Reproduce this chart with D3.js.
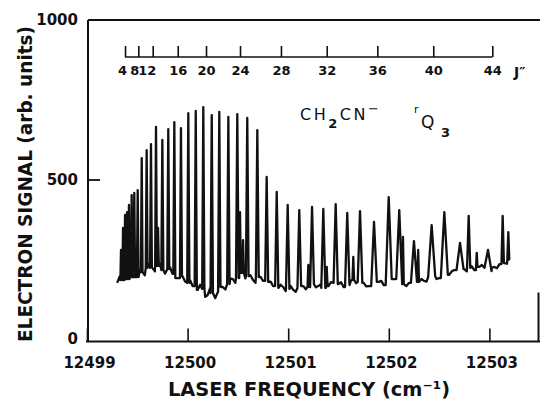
<!DOCTYPE html>
<html>
<head>
<meta charset="utf-8">
<script src="https://cdn.jsdelivr.net/npm/d3@7"></script>
<style>
  body { margin: 0; background: #fff; }
  svg { display: block; font-family: "DejaVu Sans", sans-serif; }
</style>
</head>
<body>
<svg id="chart" width="540" height="401"></svg>
<script>
// Axis ticks
const xTicks = [12499, 12500, 12501, 12502, 12503];
const yTicks = [0, 500, 1000];

// J'' assignment scale drawn across the top (frequency of each J line)
const jLabels = ['4', '8', '12', '16', '20', '24', '28', '32', '36', '40', '44'];
const jFreq = [12499.378, 12499.510, 12499.653, 12499.902, 12500.183, 12500.521,
               12500.928, 12501.383, 12501.886, 12502.442, 12503.029];

// Main lines of the Q branch (cm-1, arb. units, half width at the base in cm-1)
const peakFreq = [12499.338, 12499.358, 12499.378, 12499.398, 12499.417, 12499.444, 12499.470,
                  12499.504, 12499.544, 12499.593, 12499.636, 12499.686, 12499.749, 12499.808,
                  12499.868, 12499.934, 12500.007, 12500.081, 12500.156, 12500.240, 12500.315,
                  12500.405, 12500.494, 12500.593, 12500.693, 12500.786, 12500.886, 12500.995,
                  12501.110, 12501.237, 12501.349, 12501.472, 12501.587, 12501.714, 12501.853,
                  12501.999, 12502.104, 12502.250, 12502.426, 12502.552, 12502.708, 12502.794,
                  12502.986, 12503.132, 12503.188];
const peakSignal = [279, 348, 389, 398, 420, 451, 458, 467, 567, 592, 611, 665, 624, 658, 680,
                    661, 708, 715, 727, 702, 712, 696, 705, 693, 655, 508, 461, 420, 404, 414,
                    408, 423, 395, 401, 367, 445, 404, 307, 357, 398, 301, 386, 279, 386, 335];
const peakWidth = [.006, .006, .006, .006, .006, .008, .008, .008, .008, .009, .009, .009, .01, .01,
                   .01, .01, .011, .011, .011, .012, .012, .012, .013, .013, .014, .015, .016, .017,
                   .018, .019, .02, .021, .022, .023, .028, .03, .03, .03, .035, .035, .035, .016,
                   .035, .012, .01];

// Weaker lines and shoulders
const minorFreq = [12499.706, 12500.521, 12500.551, 12501.200, 12501.383, 12501.647,
                   12502.141, 12502.292, 12502.874];
const minorSignal = [348, 398, 310, 232, 226, 257, 320, 279, 270];
const minorWidth = 0.008;

// Baseline between the lines
const baseFreq = [12499.30, 12499.35, 12499.40, 12499.45, 12499.50, 12499.55, 12499.60, 12499.65,
                  12499.70, 12499.75, 12499.80, 12499.85, 12499.90, 12499.95, 12500.00, 12500.05,
                  12500.10, 12500.15, 12500.20, 12500.25, 12500.30, 12500.35, 12500.40, 12500.45,
                  12500.50, 12500.55, 12500.60, 12500.65, 12500.70, 12500.75, 12500.80, 12500.85,
                  12500.90, 12500.95, 12501.00, 12501.05, 12501.10, 12501.15, 12501.20, 12501.25,
                  12501.30, 12501.35, 12501.40, 12501.45, 12501.50, 12501.55, 12501.60, 12501.65,
                  12501.70, 12501.75, 12501.80, 12501.85, 12501.90, 12501.95, 12502.00, 12502.05,
                  12502.10, 12502.15, 12502.20, 12502.25, 12502.30, 12502.35, 12502.40, 12502.45,
                  12502.50, 12502.55, 12502.60, 12502.65, 12502.70, 12502.75, 12502.80, 12502.85,
                  12502.90, 12502.95, 12503.00, 12503.05, 12503.10, 12503.15, 12503.20];
const baseSignal = [176, 185, 188, 194, 194, 210, 223, 223, 229, 216, 219, 204, 191, 197, 176,
                    166, 154, 157, 138, 144, 147, 163, 172, 188, 191, 207, 197, 185, 194, 182,
                    179, 166, 160, 163, 157, 154, 160, 166, 163, 172, 166, 160, 166, 176, 172,
                    163, 169, 185, 179, 176, 166, 172, 179, 169, 166, 188, 182, 172, 176, 185,
                    179, 182, 194, 197, 191, 204, 201, 216, 210, 219, 223, 216, 226, 223, 213,
                    226, 235, 238, 248];

// Baseline noise read halfway between the samples above
const noiseFreq = [12499.325, 12499.375, 12499.425, 12499.475, 12499.525, 12499.575, 12499.625,
                   12499.675, 12499.725, 12499.775, 12499.825, 12499.875, 12499.925, 12499.975,
                   12500.025, 12500.075, 12500.125, 12500.175, 12500.225, 12500.275, 12500.325,
                   12500.375, 12500.425, 12500.475, 12500.525, 12500.575, 12500.625, 12500.675,
                   12500.725, 12500.775, 12500.825, 12500.875, 12500.925, 12500.975, 12501.025,
                   12501.075, 12501.125, 12501.175, 12501.225, 12501.275, 12501.325, 12501.375,
                   12501.425, 12501.475, 12501.525, 12501.575, 12501.625, 12501.675, 12501.725,
                   12501.775, 12501.825, 12501.875, 12501.925, 12501.975, 12502.025, 12502.075,
                   12502.125, 12502.175, 12502.225, 12502.275, 12502.325, 12502.375, 12502.425,
                   12502.475, 12502.525, 12502.575, 12502.625, 12502.675, 12502.725, 12502.775,
                   12502.825, 12502.875, 12502.925, 12502.975, 12503.025, 12503.075, 12503.125,
                   12503.175];
const noiseSignal = [196, 172, 205, 180, 215, 200, 238, 212, 236, 205, 225, 188, 206, 180, 184,
                     148, 170, 132, 160, 128, 168, 155, 190, 176, 205, 190, 200, 176, 195, 170,
                     180, 155, 170, 150, 166, 148, 170, 156, 176, 162, 172, 155, 178, 165, 178,
                     158, 184, 175, 186, 165, 176, 168, 182, 160, 180, 178, 185, 166, 186, 174,
                     188, 180, 202, 188, 203, 195, 212, 206, 220, 212, 228, 214, 232, 212, 224,
                     222, 244, 236];

const ink = '#111';
const width = 540;
const svg = d3.select('#chart');

const x = d3.scaleLinear().domain([12499, 12503]).range([87, 489.4]);
const y = d3.scaleLinear().domain([0, 1000]).range([339, 20]);

const frameLeft = x(12499) + 1;
const frameTop = y(1000);
const frameBottom = y(0) + 2.5;

// Frame (left axis, top line, bottom axis, bit of the right edge)
svg.append('path')
  .attr('d', `M${frameLeft},${frameTop} V${frameBottom} M${frameLeft - 2},${frameBottom} H${width} M${frameLeft},${frameTop} H${width} M${width - 1.5},${frameBottom - 49} V${frameBottom}`)
  .attr('fill', 'none')
  .attr('stroke', ink)
  .attr('stroke-width', 2);

// X axis
const gx = svg.append('g')
  .attr('transform', `translate(0,${frameBottom})`)
  .call(d3.axisBottom(x).tickValues(xTicks).tickFormat(d3.format('d'))
    .tickSizeInner(-13).tickSizeOuter(0).tickPadding(16));
gx.select('.domain').remove();
gx.selectAll('line').attr('stroke', ink).attr('stroke-width', 1.6);
gx.selectAll('text').attr('fill', ink).attr('font-size', 15).attr('font-weight', 'bold')
  .attr('font-family', '"DejaVu Sans", sans-serif').attr('dx', 2);

// Y axis
const gy = svg.append('g')
  .attr('transform', `translate(${frameLeft},0)`)
  .call(d3.axisLeft(y).tickValues(yTicks).tickFormat(d3.format('d'))
    .tickSizeInner(-12).tickSizeOuter(0).tickPadding(10));
gy.select('.domain').remove();
gy.selectAll('line').attr('stroke', ink).attr('stroke-width', 1.8)
  .attr('opacity', d => (d === 0 || d === 1000) ? 0 : 1);
gy.selectAll('text').attr('fill', ink).attr('font-size', 15).attr('font-weight', 'bold')
  .attr('font-family', '"DejaVu Sans", sans-serif');

// J'' scale
const jY = 57;
const jNudge = [-3, -4, -6];   // the crowded low-J labels sit left of their ticks
const gj = svg.append('g')
  .attr('transform', `translate(0,${jY})`)
  .call(d3.axisBottom(x).tickValues(jFreq).tickFormat((d, i) => jLabels[i])
    .tickSizeInner(-11).tickSizeOuter(0).tickPadding(9));
gj.select('.domain').remove();
gj.append('line')
  .attr('x1', x(jFreq[0])).attr('x2', x(jFreq[jFreq.length - 1]))
  .attr('stroke', ink).attr('stroke-width', 1.6);
gj.selectAll('line').attr('stroke', ink).attr('stroke-width', 1.6);
gj.selectAll('text').attr('fill', ink).attr('font-size', 13).attr('font-weight', 'bold')
  .attr('font-family', '"DejaVu Sans", sans-serif')
  .attr('dx', (d, i) => jNudge[i] || 0);
svg.append('text')
  .attr('x', 514).attr('y', 77)
  .attr('font-size', 14).attr('font-weight', 'bold').attr('fill', ink)
  .text('J\u2033');

// Build the trace from baseline and lines
const lineFreq = baseFreq.concat(noiseFreq);
const lineSignal = baseSignal.concat(noiseSignal);
const pts = [];
lineFreq.forEach((f, i) => {
  const covered = peakFreq.some((p, j) => Math.abs(p - f) < peakWidth[j]) ||
                  minorFreq.some(p => Math.abs(p - f) < minorWidth);
  if (!covered) pts.push([f, lineSignal[i]]);
});
const footAt = f => baseSignal[d3.minIndex(baseFreq, b => Math.abs(b - f))];
peakFreq.forEach((f, i) => {
  const w = peakWidth[i];
  pts.push([f - w, footAt(f - w)], [f, peakSignal[i]], [f + w, footAt(f + w)]);
});
minorFreq.forEach((f, i) => {
  pts.push([f - minorWidth, footAt(f - minorWidth)], [f, minorSignal[i]], [f + minorWidth, footAt(f + minorWidth)]);
});
pts.sort((a, b) => a[0] - b[0]);

const line = d3.line().x(d => x(d[0])).y(d => y(d[1]));
svg.append('path')
  .datum(pts)
  .attr('d', line)
  .attr('fill', 'none')
  .attr('stroke', ink)
  .attr('stroke-width', 2.3)
  .attr('stroke-linejoin', 'round');

// Species label
const lab = svg.append('text')
  .attr('x', 300).attr('y', 120)
  .attr('font-size', 16).attr('fill', ink).attr('letter-spacing', 2.5);
lab.append('tspan').text('CH');
lab.append('tspan').attr('dy', 8).attr('font-size', 13).attr('font-weight', 'bold').text('2');
lab.append('tspan').attr('dy', -8).text('CN');
lab.append('tspan').attr('dy', -7).attr('font-size', 13).text('\u2212');

svg.append('text').attr('x', 414).attr('y', 113).attr('font-size', 11).attr('fill', ink).text('r');
svg.append('text').attr('x', 421).attr('y', 128).attr('font-size', 17).attr('fill', ink).text('Q');
svg.append('text').attr('x', 441).attr('y', 137).attr('font-size', 13).attr('font-weight', 'bold')
  .attr('fill', ink).text('3');

// Axis titles
svg.append('text')
  .attr('x', 168).attr('y', 396)
  .attr('font-size', 20).attr('font-weight', 'bold').attr('fill', ink)
  .attr('textLength', 282).attr('lengthAdjust', 'spacingAndGlyphs')
  .text('LASER FREQUENCY (cm\u207B\u00B9)');

svg.append('text')
  .attr('transform', 'translate(32,184) rotate(-90)')
  .attr('text-anchor', 'middle')
  .attr('font-size', 20).attr('font-weight', 'bold').attr('fill', ink)
  .attr('textLength', 316).attr('lengthAdjust', 'spacingAndGlyphs')
  .text('ELECTRON SIGNAL (arb. units)');
</script>
</body>
</html>
